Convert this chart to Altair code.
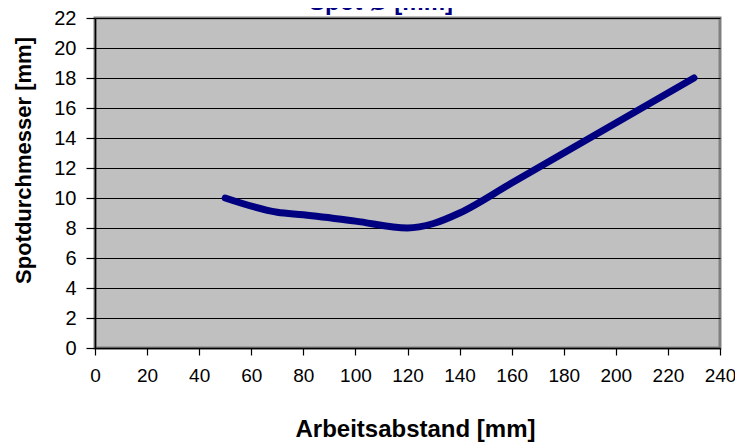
import altair as alt
import pandas as pd

# data
abstand = [50, 70, 80, 100, 120, 130, 140, 160, 230]
spot = [10.0, 9.05, 8.88, 8.46, 8.0, 8.3, 9.0, 11.0, 18.0]

x_ticks = list(range(0, 241, 20))
y_ticks = list(range(0, 23, 2))

df = pd.DataFrame({"Arbeitsabstand": abstand, "Spot": spot})

FONT = "Liberation Sans"

line = alt.Chart(df).mark_line(
    color="#000080", strokeWidth=7, interpolate="monotone",
    strokeCap="round", strokeJoin="round", clip=False
).encode(
    x=alt.X("Arbeitsabstand:Q",
            scale=alt.Scale(domain=[0, 240], nice=False, zero=False),
            axis=alt.Axis(values=x_ticks, title="Arbeitsabstand [mm]",
                          grid=False, domainColor="black", domainWidth=1.5,
                          tickColor="black", tickSize=7, tickWidth=1.2,
                          labelFont=FONT, labelFontSize=19, labelColor="black",
                          labelPadding=11, labelAngle=0, labelFlush=False,
                          labelOverlap=False,
                          titleFont=FONT, titleFontSize=24, titleFontWeight="bold",
                          titleColor="black", titleX=320, titleY=88,
                          titleBaseline="alphabetic",
                          titleAlign="center")),
    y=alt.Y("Spot:Q",
            scale=alt.Scale(domain=[0, 22], nice=False, zero=False),
            axis=alt.Axis(values=y_ticks, title="Spotdurchmesser [mm]",
                          grid=True, gridColor="black", gridWidth=1.2,
                          domainColor="black", domainWidth=1.5,
                          tickColor="black", tickSize=9, tickWidth=1.2,
                          labelFont=FONT, labelFontSize=20, labelColor="black",
                          labelPadding=10, labelFlush=False, labelOverlap=False,
                          titleFont=FONT, titleFontSize=22, titleFontWeight="bold",
                          titleColor="black", titleAngle=-90, titleX=-65, titleY=142,
                          titleBaseline="alphabetic", titleAlign="center")),
)

title_df = pd.DataFrame({"t": ["Spot Ø [mm]"]})
title = alt.Chart(title_df).mark_text(
    font=FONT, fontSize=24, fontWeight="bold", color="#000080",
    baseline="alphabetic", align="center", clip=False
).encode(
    text="t:N",
    x=alt.value(286),
    y=alt.value(-8),
)

chart = alt.layer(line, title).properties(
    width=625, height=330,
    padding={"left": 87, "top": 10, "right": 15, "bottom": 95},
    autosize=alt.AutoSizeParams(type="none"),
    background="white",
).configure_view(
    fill="#C0C0C0", stroke="#808080", strokeWidth=3
)

chart.save("out.html", embed_options={"renderer": "svg", "actions": False})
